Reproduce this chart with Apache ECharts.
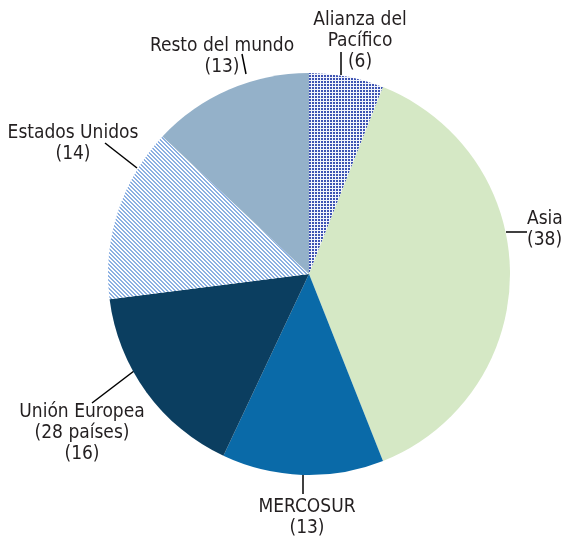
<!DOCTYPE html>
<html>
<head>
<meta charset="utf-8">
<script src="https://cdn.jsdelivr.net/npm/echarts@6/dist/echarts.min.js"></script>
<style>
  html, body { margin: 0; padding: 0; background: #fff; }
  #main { width: 564px; height: 538px; }
</style>
</head>
<body>
<div id="main"></div>
<script>
// chart data
let names = ["Alianza del\nPacífico", "Asia", "MERCOSUR", "Unión Europea\n(28 países)", "Estados Unidos", "Resto del mundo"]
let values = [6, 38, 13, 16, 14, 13]

// where each label and its leader line go (layout only)
let labelPos = [
    { x: 360, y: 41, align: "center", line: [[341, 75], [341, 52]] },
    { x: 527, y: 230, align: "left", line: [[506, 232], [527, 232]] },
    { x: 307, y: 518, align: "center", line: [[303, 474], [303, 494]] },
    { x: 82, y: 433, align: "center", line: [[134, 371], [92, 403]] },
    { x: 73, y: 144, align: "center", line: [[137, 168], [105, 143]] },
    { x: 222, y: 57, align: "center", line: [[246, 74], [242, 54]] }
]

// small canvas patterns for the two textured slices
function gridPattern() {
    let c = document.createElement("canvas")
    c.width = 3; c.height = 3
    let ctx = c.getContext("2d")
    ctx.fillStyle = "#f2f4fb"
    ctx.fillRect(0, 0, 3, 3)
    ctx.fillStyle = "#3d53b3"
    ctx.fillRect(0, 0, 2, 2)
    return c
}

function hatchPattern() {
    let c = document.createElement("canvas")
    c.width = 4; c.height = 4
    let ctx = c.getContext("2d")
    ctx.fillStyle = "#ffffff"
    ctx.fillRect(0, 0, 4, 4)
    ctx.fillStyle = "#8cb0e2"
    for (let y = 0; y < 4; y++) {
        for (let x = 0; x < 4; x++) {
            let k = ((x - y) % 4 + 4) % 4
            if (k < 2) ctx.fillRect(x, y, 1, 1)
        }
    }
    return c
}

let colors = [
    { image: gridPattern(), repeat: "repeat" },
    "#d5e8c5",
    "#0a6aa8",
    "#0b3e60",
    { image: hatchPattern(), repeat: "repeat" },
    "#94b1c9"
]

let data = names.map((n, i) => ({
    name: n,
    value: values[i],
    itemStyle: { color: colors[i] }
}))

var myChart = echarts.init(document.getElementById("main"))

var option = {
    animation: false,
    series: [
        {
            type: "pie",
            center: [309, 274],
            radius: 201,
            startAngle: 90,
            clockwise: true,
            data: data,
            label: {
                show: true,
                position: "outside",
                formatter: "{b}\n({c})",
                fontFamily: "'Liberation Sans Narrow', 'DejaVu Sans Condensed', 'Roboto Condensed', 'Arial Narrow', sans-serif",
                fontSize: 19,
                lineHeight: 21,
                color: "#231f20",
                align: "center",
                overflow: "none"
            },
            labelLine: {
                show: true,
                length: 12,
                length2: 0,
                lineStyle: { color: "#000", width: 1.5 }
            },
            labelLayout: function (params) {
                let p = labelPos[params.dataIndex]
                return {
                    x: p.x,
                    y: p.y,
                    align: p.align,
                    verticalAlign: "middle",
                    labelLinePoints: [p.line[0], p.line[0], p.line[1]]
                }
            },
            emphasis: { disabled: true }
        }
    ]
}

myChart.setOption(option)
</script>
</body>
</html>
